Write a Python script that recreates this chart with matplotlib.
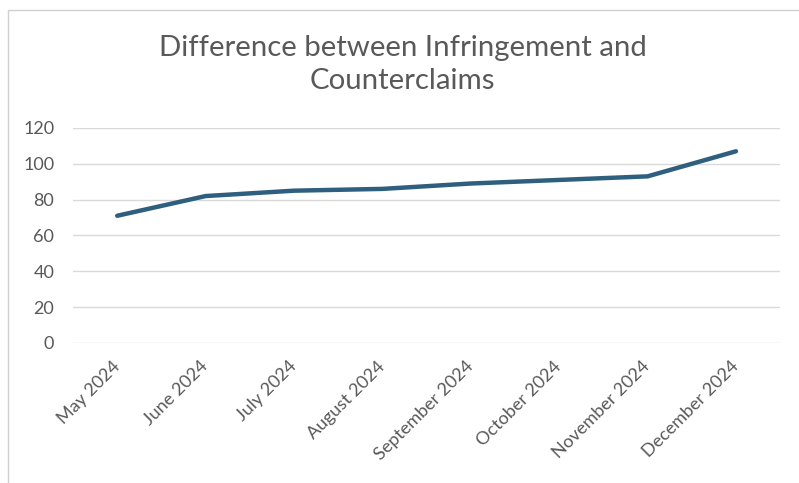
import matplotlib.pyplot as plt
from matplotlib.patches import Rectangle

months = ["May 2024", "June 2024", "July 2024", "August 2024",
          "September 2024", "October 2024", "November 2024", "December 2024"]
difference = [71, 82, 85, 86, 89, 91, 93, 107]

plt.rcParams["font.family"] = ["Lato", "DejaVu Sans"]
GREY = "#595959"

fig = plt.figure(figsize=(7.99, 4.83), dpi=100)
ax = fig.add_axes([0.0914, 0.290, 0.885, 0.445])

x = range(len(months))
ax.plot(x, difference, color="#2F5F7E", lw=3.2, solid_capstyle="round",
        solid_joinstyle="round", zorder=3)

ax.set_xlim(-0.5, len(months) - 0.5)
ax.set_ylim(0, 120)
ax.set_yticks(range(0, 121, 20))
ax.set_xticks(list(x))
ax.set_xticklabels(months, rotation=45, ha="right", va="center",
                   rotation_mode="anchor")
ax.tick_params(axis="both", length=0, colors=GREY, labelsize=13)
ax.tick_params(axis="y", pad=13.5)
ax.tick_params(axis="x", pad=15)
ax.grid(axis="y", color="#d9d9d9", lw=1)
for s in ax.spines.values():
    s.set_visible(False)

fig.text(0.504, 0.867, "Difference between Infringement and\nCounterclaims",
         ha="center", va="center", fontsize=21.2, color=GREY, linespacing=1.33)

# chart frame from the screenshot
fig.patches.append(Rectangle((0.010, -0.05), 1.1, 1.0293, transform=fig.transFigure,
                             fill=False, ec="#d0d0d0", lw=1))

fig.savefig("out.png", dpi=100)
